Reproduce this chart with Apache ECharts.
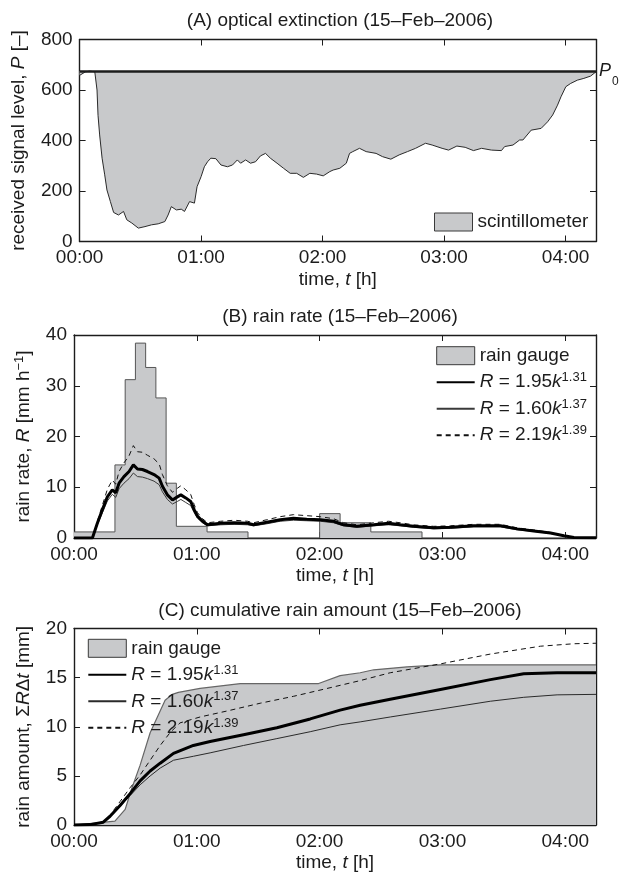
<!DOCTYPE html>
<html><head><meta charset="utf-8">
<script src="https://cdn.jsdelivr.net/npm/echarts@6/dist/echarts.min.js"></script>
<style>html,body{margin:0;padding:0;background:#fff}#c{width:626px;height:875px}</style>
</head><body><div id="c"></div>
<script>
// ---------- data ----------
const timeTicks = ['00:00', '01:00', '02:00', '03:00', '04:00'];   // every 60 min
const P0 = 675;

// (A) received signal level, minutes since 00:00
const tA = [0,2.9,5,7.5,8.6,9.1,9.9,11.1,12.4,13.5,15.2,16.8,19.2,21.7,23.3,25.8,29.0,32.3,35.5,38.8,42.1,43.7,45.3,47.8,50.2,51.8,54.3,56.7,58.0,60.0,61.6,63.2,64.8,67.3,69.8,73.0,75.5,77.9,79.5,82.0,84.4,86.9,89.3,91.8,94.2,97.5,100.7,104.0,107.2,110.5,113.7,117.0,120.3,123.6,125.2,128.5,131.7,133.3,134.9,138.2,141.5,146.4,149.6,153.7,157.8,161.9,165.9,170.8,174.1,179.0,182.2,186.3,190.4,194.5,198.5,203.4,208.3,209.9,214.0,217.3,218.9,223.0,227.9,231.1,233.6,236.0,237.7,240.1,242.5,245.8,249.0,252.3,255];
const pA = [658,672,675,672,600,500,422,330,264,204,158,115,105,119,86,73,53,59,66,70,79,105,138,125,128,119,158,152,217,257,296,316,330,328,303,296,303,323,310,323,310,316,339,349,330,310,290,270,270,254,270,267,260,277,283,290,310,349,356,369,356,349,336,326,343,356,369,389,382,369,362,378,373,360,369,362,360,376,382,402,402,441,448,474,501,540,573,613,626,639,646,655,672];

// (B) rain gauge rate (step starts) and radar-derived rain rates
const tGauge = [0,20,25,30,35,40,45,50,65,85,120,130,145,170,255];
const gaugeRate = [1.2,14.4,31.2,38.4,33.6,27.6,10.8,2.3,1.2,0,4.8,3.0,1.2,0,0];
const tB = [0,9,11.4,13.9,16.3,18.7,20.4,22,24.4,26.9,29,31,33.4,35.9,39.1,41.6,43.2,45.6,48.1,50.5,52.2,54.6,57,58.7,60.3,62.8,65.2,71.7,78.2,84.8,87.7,94.2,100.7,107.2,113.7,120.3,126.8,131.7,138.2,146.4,153.7,159.4,165.9,175.7,183.9,195.3,208.3,216.5,224.6,232.8,239.3,244.2,255];
const rate195 = [0,0,2.9,5.6,8.1,9.5,8.9,10.8,12.1,13.1,14.4,13.6,13.5,13.1,12.5,11.8,10.2,8.5,7.5,8.1,8.5,7.9,7.2,5.6,4.3,3.3,2.6,2.9,3.0,2.9,2.6,3.1,3.6,3.9,3.7,3.6,3.3,2.6,2.3,2.6,2.9,2.6,2.3,2.0,2.1,2.4,2.4,1.8,1.4,1.0,0.45,0.1,0.05];
const rate160 = [0,0,2.6,5.0,7.3,8.6,8.0,9.7,10.8,11.7,12.8,12.1,12.0,11.7,11.2,10.5,9.1,7.6,6.7,7.2,7.6,7.0,6.4,5.0,3.9,3.0,2.4,2.6,2.7,2.6,2.4,2.8,3.3,3.5,3.4,3.3,3.0,2.4,2.1,2.4,2.6,2.4,2.1,1.8,1.9,2.2,2.2,1.6,1.3,0.9,0.4,0.1,0.05];
const rate219 = [0,0,3.3,6.5,9.6,11.4,10.6,13.1,14.8,16.2,18.2,17.0,16.9,16.3,15.6,14.6,12.5,10.3,9.0,9.8,10.3,9.5,8.6,6.6,5.0,3.8,3.0,3.3,3.5,3.3,3.0,3.6,4.2,4.6,4.4,4.2,3.8,3.0,2.6,3.0,3.3,3.0,2.6,2.3,2.4,2.7,2.7,2.0,1.6,1.1,0.5,0.1,0.05];

// (C) cumulative rain amount
const tGaugeC = [0,10,20,25,28,32.3,37.2,44.5,48,51,61.6,81.2,119.5,130,139.8,146.4,162.7,179,255];
const gaugeCum = [0,0.2,0.4,1.6,3.6,6.1,9.4,12.7,13.3,13.5,13.9,14.4,14.4,15.2,15.5,15.8,16.1,16.3,16.3];
const tC = [0,7.8,14.3,17.6,22.5,27.4,32.3,37.2,42.1,48.6,58.3,66.5,82.8,99.1,115.4,130,139.8,154.5,179,203.4,219.7,236,255];
const cum195 = [0,0.05,0.3,0.9,2.0,3.2,4.5,5.5,6.3,7.3,8.1,8.5,9.2,9.9,10.8,11.7,12.2,12.8,13.8,14.8,15.4,15.5,15.5];
const cum160 = [0,0.05,0.3,0.85,1.9,3.0,4.1,5.0,5.8,6.6,7.0,7.35,8.1,8.8,9.5,10.2,10.5,11.0,11.8,12.6,13.0,13.25,13.3];
const tC219 = [0,7.8,14.3,17.6,22.5,27.4,32.3,37.2,42.1,46.9,51.8,61.6,74.6,91,107.2,123.6,139.8,154.5,179,203.4,227.9,244.2,255];
const cum219 = [0,0.05,0.35,1.0,2.4,3.8,5.1,6.6,8.1,9.4,10.4,11.0,11.6,12.4,13.1,13.9,14.7,15.5,16.4,17.4,18.2,18.45,18.5];

// ---------- styling ----------
const FONT = '"Liberation Sans", Arial, Helvetica, sans-serif';
const INK = '#1c1c1c';
const GRAY = '#c8c9cb';
const FS = 19;
const pairs = (xs, ys) => xs.map((x, i) => [x, ys[i]]);

const rich = {
  i: {fontStyle: 'italic', fontSize: FS, fontFamily: FONT, color: INK, lineHeight: 22},
  sup: {fontSize: 13, fontFamily: FONT, color: INK, verticalAlign: 'top', lineHeight: 4},
  sym: {fontSize: FS, fontFamily: FONT, color: INK, lineHeight: 22}
};
const txt = {fontSize: FS, fontFamily: FONT, color: INK, lineHeight: 22, rich: rich};

const LABELS = {
  scint: 'scintillometer',
  gaugeB: 'rain gauge', gaugeC: 'rain gauge',
  r195B: '{i|R} = 1.95{i|k}{sup|1.31}', r195C: '{i|R} = 1.95{i|k}{sup|1.31}',
  r160B: '{i|R} = 1.60{i|k}{sup|1.37}', r160C: '{i|R} = 1.60{i|k}{sup|1.37}',
  r219B: '{i|R} = 2.19{i|k}{sup|1.39}', r219C: '{i|R} = 2.19{i|k}{sup|1.39}'
};

const grids = [
  {left: 74, width: 522, top: 39.5, height: 202},
  {left: 74, width: 522, top: 335, height: 203},
  {left: 74, width: 522, top: 628.5, height: 204}
];
const yRanges = [[0, 800, 200], [0, 40, 10], [0, 20, 5]];
const yNames = [
  'received signal level, {i|P} [–]',
  'rain rate, {i|R} [mm h{sup|−1}]',
  'rain amount, Σ{i|R}Δ{i|t} [mm]'
];
const yNameGaps = [44, 33, 33];

const axLine = {onZero: false, lineStyle: {color: INK, width: 1.4}};
const tick = {inside: true, length: 6, lineStyle: {color: INK, width: 1}};

const xAxes = [], yAxes = [];
grids.forEach((g, i) => {
  xAxes.push({
    type: 'value', gridIndex: i, min: 0, max: 255, interval: 60,
    axisLine: axLine, axisTick: tick, splitLine: {show: false},
    axisLabel: {formatter: v => (v % 60 === 0 ? timeTicks[v / 60] : ''), fontSize: FS, fontFamily: FONT, color: INK, margin: 7},
    name: 'time, {i|t} [h]', nameLocation: 'middle', nameGap: 26, nameTextStyle: txt
  });
  xAxes.push({
    type: 'value', gridIndex: i, position: 'top', min: 0, max: 255, interval: 60,
    axisLine: axLine, axisTick: tick, axisLabel: {show: false}, splitLine: {show: false}
  });
  const [mn, mx, iv] = yRanges[i];
  yAxes.push({
    type: 'value', gridIndex: i, min: mn, max: mx, interval: iv,
    axisLine: Object.assign({show: true}, axLine), axisTick: Object.assign({show: true}, tick), splitLine: {show: false},
    axisLabel: {fontSize: FS, fontFamily: FONT, color: INK, margin: 7},
    name: yNames[i], nameLocation: 'middle', nameRotate: 90, nameGap: yNameGaps[i], nameTextStyle: txt
  });
  yAxes.push({
    type: 'value', gridIndex: i, position: 'right', min: mn, max: mx, interval: iv,
    axisLine: Object.assign({show: true}, axLine), axisTick: Object.assign({show: true}, tick),
    axisLabel: {show: false}, splitLine: {show: false}
  });
});

const titleStyle = {fontSize: FS, fontWeight: 'normal', color: INK, fontFamily: FONT};
const legendBase = {
  orient: 'vertical', padding: 0, itemWidth: 38, itemHeight: 18, itemGap: 4.5,
  selectedMode: false, textStyle: txt, formatter: n => LABELS[n]
};
const gaugeIcon = n => ({name: n, icon: 'rect', itemStyle: {color: GRAY, borderColor: '#3a3a3a', borderWidth: 1}});
const lineIcon = n => ({name: n, itemStyle: {color: 'rgba(0,0,0,0)', borderColor: 'rgba(0,0,0,0)', borderWidth: 0, opacity: 0}});

const lineSeries = (name, xi, yi, data, style, z) => ({
  name, type: 'line', xAxisIndex: xi, yAxisIndex: yi, data, symbol: 'none', showSymbol: false,
  lineStyle: style, itemStyle: {color: style.color}, z: z
});

const option = {
  animation: false,
  backgroundColor: '#fff',
  title: [
    {text: '(A) optical extinction (15–Feb–2006)', left: 335, top: 6, textAlign: 'center', textStyle: titleStyle},
    {text: '(B) rain rate (15–Feb–2006)', left: 335, top: 302, textAlign: 'center', textStyle: titleStyle},
    {text: '(C) cumulative rain amount (15–Feb–2006)', left: 335, top: 596, textAlign: 'center', textStyle: titleStyle}
  ],
  grid: grids,
  xAxis: xAxes,
  yAxis: yAxes,
  legend: [
    Object.assign({}, legendBase, {left: 434, top: 211, data: [gaugeIcon('scint')]}),
    Object.assign({}, legendBase, {left: 435.7, top: 344.7, data: [gaugeIcon('gaugeB'), lineIcon('r195B'), lineIcon('r160B'), lineIcon('r219B')]}),
    Object.assign({}, legendBase, {left: 87.3, top: 637.3, data: [gaugeIcon('gaugeC'), lineIcon('r195C'), lineIcon('r160C'), lineIcon('r219C')]})
  ],
  series: [
    {
      name: 'scint', type: 'line', xAxisIndex: 0, yAxisIndex: 0, data: pairs(tA, pA),
      symbol: 'none', lineStyle: {color: '#2a2a2a', width: 1}, itemStyle: {color: GRAY},
      areaStyle: {color: GRAY, opacity: 1, origin: P0}, z: 2,
      markLine: {
        silent: true, symbol: 'none', data: [{yAxis: P0}],
        lineStyle: {color: INK, width: 2.6, type: 'solid'},
        label: {
          position: 'end', distance: 3, formatter: '{p|P}{s|0}',
          rich: {
            p: {fontStyle: 'italic', fontSize: 18, fontFamily: FONT, color: INK},
            s: {fontSize: 12, fontFamily: FONT, color: INK, padding: [22, 0, 0, 1]}
          }
        }
      }
    },
    {
      name: 'gaugeB', type: 'line', step: 'end', xAxisIndex: 2, yAxisIndex: 2, data: pairs(tGauge, gaugeRate),
      symbol: 'none', lineStyle: {color: '#555', width: 1}, itemStyle: {color: GRAY},
      areaStyle: {color: GRAY, opacity: 1}, z: 2
    },
    lineSeries('r160B', 2, 2, pairs(tB, rate160), {color: '#3a3a3a', width: 1}, 3),
    lineSeries('r219B', 2, 2, pairs(tB, rate219), {color: '#111', width: 1, type: [5, 4]}, 3),
    lineSeries('r195B', 2, 2, pairs(tB, rate195), {color: '#000', width: 3}, 4),
    {
      name: 'gaugeC', type: 'line', xAxisIndex: 4, yAxisIndex: 4, data: pairs(tGaugeC, gaugeCum),
      symbol: 'none', lineStyle: {color: '#666', width: 1.2}, itemStyle: {color: GRAY},
      areaStyle: {color: GRAY, opacity: 1}, z: 2
    },
    lineSeries('r160C', 4, 4, pairs(tC, cum160), {color: '#2a2a2a', width: 1}, 3),
    lineSeries('r219C', 4, 4, pairs(tC219, cum219), {color: '#111', width: 1, type: [5, 4]}, 3),
    lineSeries('r195C', 4, 4, pairs(tC, cum195), {color: '#000', width: 3}, 4)
  ]
};

const chart = echarts.init(document.getElementById('c'), null, {renderer: 'canvas'});
chart.setOption(option);
</script>
</body></html>
